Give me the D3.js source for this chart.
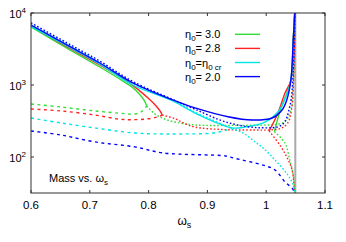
<!DOCTYPE html>
<html>
<head>
<meta charset="utf-8">
<script src="https://cdn.jsdelivr.net/npm/d3@7"></script>
<style>
body { margin: 0; background: #fff; }
text { font-family: "Liberation Sans", Arial, sans-serif; fill: #000; }
</style>
</head>
<body>
<script>
// ---- data (omega_s, mass) ----
var xTicks = [0.6, 0.7, 0.8, 0.9, 1, 1.1];
var yTicks = [2, 3, 4]; // exponents of 10

var legendLabels = [
  [['η', 0], ['0', 1], ['= 3.0', 0]],
  [['η', 0], ['0', 1], ['= 2.8', 0]],
  [['η', 0], ['0', 1], ['=η', 0], ['0 cr', 1]],
  [['η', 0], ['0', 1], ['= 2.0', 0]]
];
var colors = ['#33dd33', '#ff2222', '#00e5e5', '#0000ff'];

// eta0 = 3.0
var greenSolid = [[0.6,6400],[0.661,3260],[0.717,1778],[0.75,1220],[0.773,920],[0.785,740],[0.792,620],[0.797,511]];
var greenDashed = [[0.6,545],[0.651,495],[0.709,436],[0.76,400],[0.777,395],[0.787,422],[0.797,511]];
var greenDotted = [[0.797,511],[0.81,400],[0.83,330],[0.855,295],[0.879,278],[0.95,275],[1.0,278],[1.015,282],[1.032,310],[1.042,450],[1.047,1500],[1.049,10000]];
var greenSolidRight = [[1.014,225],[1.023,422],[1.034,725],[1.042,1170],[1.046,4200],[1.0485,10000]];
var greenDottedDown = [[1.014,225],[1.032,156],[1.04,91],[1.046,56],[1.049,28]];

// eta0 = 2.8
var redSolid = [[0.6,6600],[0.661,3400],[0.717,1900],[0.773,990],[0.8,650],[0.812,520],[0.82,430],[0.823,383]];
var redDashed = [[0.6,464],[0.651,436],[0.709,383],[0.751,335],[0.777,330],[0.8,340],[0.815,360],[0.823,383]];
var redDotted = [[0.823,383],[0.845,340],[0.86,295],[0.879,260],[0.93,240],[0.98,237],[1.005,237],[1.025,250],[1.037,300],[1.043,450],[1.047,1500],[1.049,10000]];
var redSolidRight = [[1.005,230],[1.02,409],[1.032,774],[1.042,1170],[1.046,4200],[1.0485,10000]];
var redDottedDown = [[1.005,230],[1.023,147],[1.035,100],[1.044,66],[1.049,28]];

// eta0 = eta0 cr
var cyanSolid = [[0.6,6500],[0.661,3480],[0.717,1950],[0.773,1000],[0.841,600],[0.879,408],[0.913,306],[0.942,253],[0.965,262],[0.998,306],[1.02,422],[1.034,700],[1.042,1170],[1.046,4200],[1.0485,10000]];
var cyanDashed = [[0.6,348],[0.651,297],[0.709,253],[0.777,215],[0.824,209],[0.853,209],[0.909,215],[0.933,237],[0.942,253]];
var cyanDotted = [[0.6,6900],[0.661,3700],[0.717,2050],[0.773,1060],[0.841,615],[0.879,420],[0.913,315],[0.94,250],[0.961,215],[0.981,162],[0.995,133],[1.015,91],[1.037,56],[1.046,41],[1.049,28]];

// eta0 = 2.0
var blueSolid = [[0.6,6800],[0.661,3600],[0.717,2020],[0.773,1070],[0.841,620],[0.879,480],[0.935,362],[0.976,326],[1.01,348],[1.027,450],[1.035,620],[1.042,1170],[1.046,4200],[1.0485,10000]];
var blueDashed = [[0.6,230],[0.651,202],[0.709,162],[0.777,138],[0.824,114],[0.933,103],[0.944,97],[0.995,77],[1.015,66],[1.032,45],[1.046,35],[1.049,25]];
var blueDotted = [[0.6,7300],[0.661,3850],[0.717,2150],[0.773,1120],[0.841,630],[0.879,460],[0.935,300],[0.99,255],[1.027,280],[1.04,500],[1.046,1500],[1.049,10000]];

var asymptote = 1.0495;

// ---- chart ----
var margin = { top: 13, right: 21, bottom: 49, left: 31 };
var W = 346, H = 242;
var width = W - margin.left - margin.right;
var height = H - margin.top - margin.bottom;

var x = d3.scaleLinear().domain([0.6, 1.1]).range([0, width]);
var y = d3.scaleLog().domain([Math.pow(10, 1.5), 1e4]).range([height, 0]);

var svg = d3.select('body').append('svg')
    .attr('width', W)
    .attr('height', H)
  .append('g')
    .attr('transform', 'translate(' + margin.left + ',' + margin.top + ')');

svg.append('clipPath').attr('id', 'clip')
  .append('rect').attr('width', width).attr('height', height);

var plot = svg.append('g').attr('clip-path', 'url(#clip)');

plot.append('line')
    .attr('x1', x(asymptote)).attr('x2', x(asymptote))
    .attr('y1', 0).attr('y2', height)
    .attr('stroke', '#aaa')
    .attr('stroke-width', 2);

var line = d3.line()
    .x(function(d) { return x(d[0]); })
    .y(function(d) { return y(d[1]); })
    .curve(d3.curveCatmullRom.alpha(0.5));

var DASH = '3,3.5', DOT = '1.6,2';
var series = [
  { d: greenDashed, c: 0, s: DASH }, { d: greenDotted, c: 0, s: DOT }, { d: greenDottedDown, c: 0, s: DOT },
  { d: greenSolid, c: 0, s: null }, { d: greenSolidRight, c: 0, s: null },
  { d: redDashed, c: 1, s: DASH }, { d: redDotted, c: 1, s: DOT }, { d: redDottedDown, c: 1, s: DOT },
  { d: redSolid, c: 1, s: null }, { d: redSolidRight, c: 1, s: null },
  { d: cyanDashed, c: 2, s: DASH }, { d: cyanDotted, c: 2, s: DOT }, { d: cyanSolid, c: 2, s: null },
  { d: blueDashed, c: 3, s: DASH }, { d: blueDotted, c: 3, s: DOT }, { d: blueSolid, c: 3, s: null }
];

plot.selectAll('.curve')
    .data(series)
  .enter().append('path')
    .attr('class', 'curve')
    .attr('d', function(d) { return line(d.d); })
    .attr('fill', 'none')
    .attr('stroke', function(d) { return colors[d.c]; })
    .attr('stroke-width', function(d) { return d.s ? 1.4 : 1.4; })
    .attr('stroke-dasharray', function(d) { return d.s; });

// frame
svg.append('rect')
    .attr('x', 0).attr('y', 0)
    .attr('width', width).attr('height', height)
    .attr('fill', 'none')
    .attr('stroke', '#333')
    .attr('stroke-width', 1);

// x ticks (bottom labels, inward ticks top and bottom)
var tk = 3;
xTicks.forEach(function(v) {
  svg.append('line').attr('x1', x(v)).attr('x2', x(v)).attr('y1', height).attr('y2', height - tk).attr('stroke', '#333');
  svg.append('line').attr('x1', x(v)).attr('x2', x(v)).attr('y1', 0).attr('y2', tk).attr('stroke', '#333');
  svg.append('text')
      .attr('x', x(v)).attr('y', height + 16)
      .attr('text-anchor', 'middle')
      .style('font-size', '11.5px')
      .text(String(v));
});

// y ticks
yTicks.forEach(function(e) {
  var yy = y(Math.pow(10, e));
  svg.append('line').attr('x1', 0).attr('x2', tk).attr('y1', yy).attr('y2', yy).attr('stroke', '#333');
  svg.append('line').attr('x1', width).attr('x2', width - tk).attr('y1', yy).attr('y2', yy).attr('stroke', '#333');
  var t = svg.append('text')
      .attr('x', -5).attr('y', yy + 5)
      .attr('text-anchor', 'end')
      .style('font-size', '11px');
  t.append('tspan').text('10');
  t.append('tspan').attr('dy', -5).style('font-size', '8px').text(String(e));
});

function rich(t, parts, size) {
  var shift = 0;
  parts.forEach(function(p) {
    var target = p[1] ? 3 : 0;
    t.append('tspan')
        .attr('dy', target - shift)
        .style('font-size', p[1] ? (size - 3) + 'px' : size + 'px')
        .text(p[0]);
    shift = target;
  });
}

// x axis label
var xl = svg.append('text')
    .attr('x', x(0.849)).attr('y', height + 32);
rich(xl, [['ω', 0], ['s', 1]], 12);

// inner label
var ml = svg.append('text')
    .attr('x', 18).attr('y', 169);
rich(ml, [['Mass vs. ω', 0], ['s', 1]], 11);

// legend
var legend = svg.selectAll('.legend')
    .data(legendLabels)
  .enter().append('g')
    .attr('class', 'legend')
    .attr('transform', function(d, i) { return 'translate(0,' + (21.3 + i * 14.1) + ')'; });

legend.append('line')
    .attr('x1', 204).attr('x2', 229)
    .attr('stroke', function(d, i) { return colors[i]; })
    .attr('stroke-width', 1.4);

legend.each(function(d) {
  var t = d3.select(this).append('text').attr('x', 154).attr('y', 4);
  rich(t, d, 11);
});
</script>
</body>
</html>
